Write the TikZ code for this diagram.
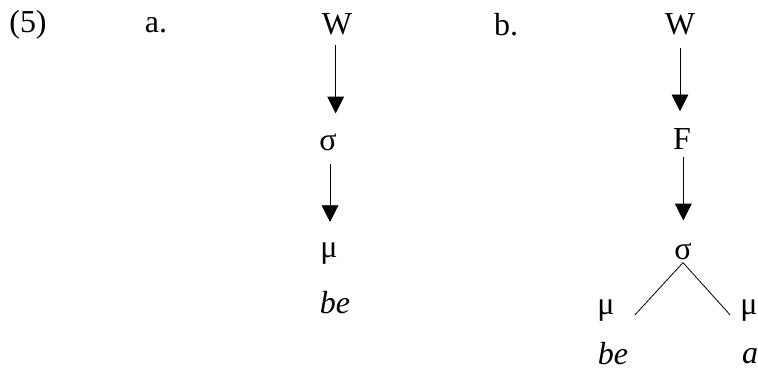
\documentclass[tikz,border=0pt]{standalone}
\usepackage{fontspec}
\setmainfont{Liberation Serif}
\usetikzlibrary{arrows.meta}
\tikzset{
  lbl/.style={font=\fontsize{24}{28}\selectfont, inner sep=0pt},
  arr/.style={-{Triangle[width=12.5pt,length=12.5pt]}, semithick},
  branch/.style={semithick}
}
\begin{document}
\begin{tikzpicture}[x=0.75pt, y=-0.75pt]
        \useasboundingbox (0,0) rectangle (758,370);

        % Example number and sub-labels
        \node[lbl] (num) at (28,25) {(5)};
        \node[lbl] (laba) at (156,25) {a.};
        \node[lbl] (labb) at (506,25) {b.};

        % (a) W -> sigma -> mu
        \node[lbl] (wa) at (337,24) {W};
        \node[lbl] (sa) at (328,142) {σ};
        \node[lbl] (ma) at (329,254) {μ};
        \node[lbl] (bea) at (335,303) {\itshape be};
        \draw[arr, shorten <=10pt*0.75, shorten >=20pt*0.75] ([xshift=-1pt]wa.south) -- ([xshift=-1pt]wa.south |- sa.north);
        \draw[arr, shorten <=13pt*0.75, shorten >=21pt*0.75] ([xshift=1.5pt]sa.south) -- ([xshift=1.5pt]sa.south |- ma.north);

        % (b) W -> F -> sigma, branching into two moras
        \node[lbl] (wb) at (680,24) {W};
        \node[lbl] (fb) at (682,139) {F};
        \node[lbl] (sb) at (683,251) {σ};
        \node[lbl] (mb1) at (606,311) {μ};
        \node[lbl] (mb2) at (749,311) {μ};
        \node[lbl] (beb) at (613,354) {\itshape be};
        \node[lbl] (ab) at (750,356) {\itshape a};
        \draw[arr, shorten <=13pt*0.75, shorten >=17pt*0.75] (wb.south) -- (wb.south |- fb.north);
        \draw[arr, shorten <=7pt*0.75, shorten >=22pt*0.75] ([xshift=1pt]fb.south) -- ([xshift=1pt]fb.south |- sb.north);
        \coordinate (apex) at ([yshift=-3pt*0.75]sb.south);
        \draw[branch] (apex) -- ([xshift=20pt*0.75, yshift=-4pt*0.75]mb1.east);
        \draw[branch] (apex) -- ([xshift=-10pt*0.75, yshift=-4pt*0.75]mb2.west);
\end{tikzpicture}
\end{document}
